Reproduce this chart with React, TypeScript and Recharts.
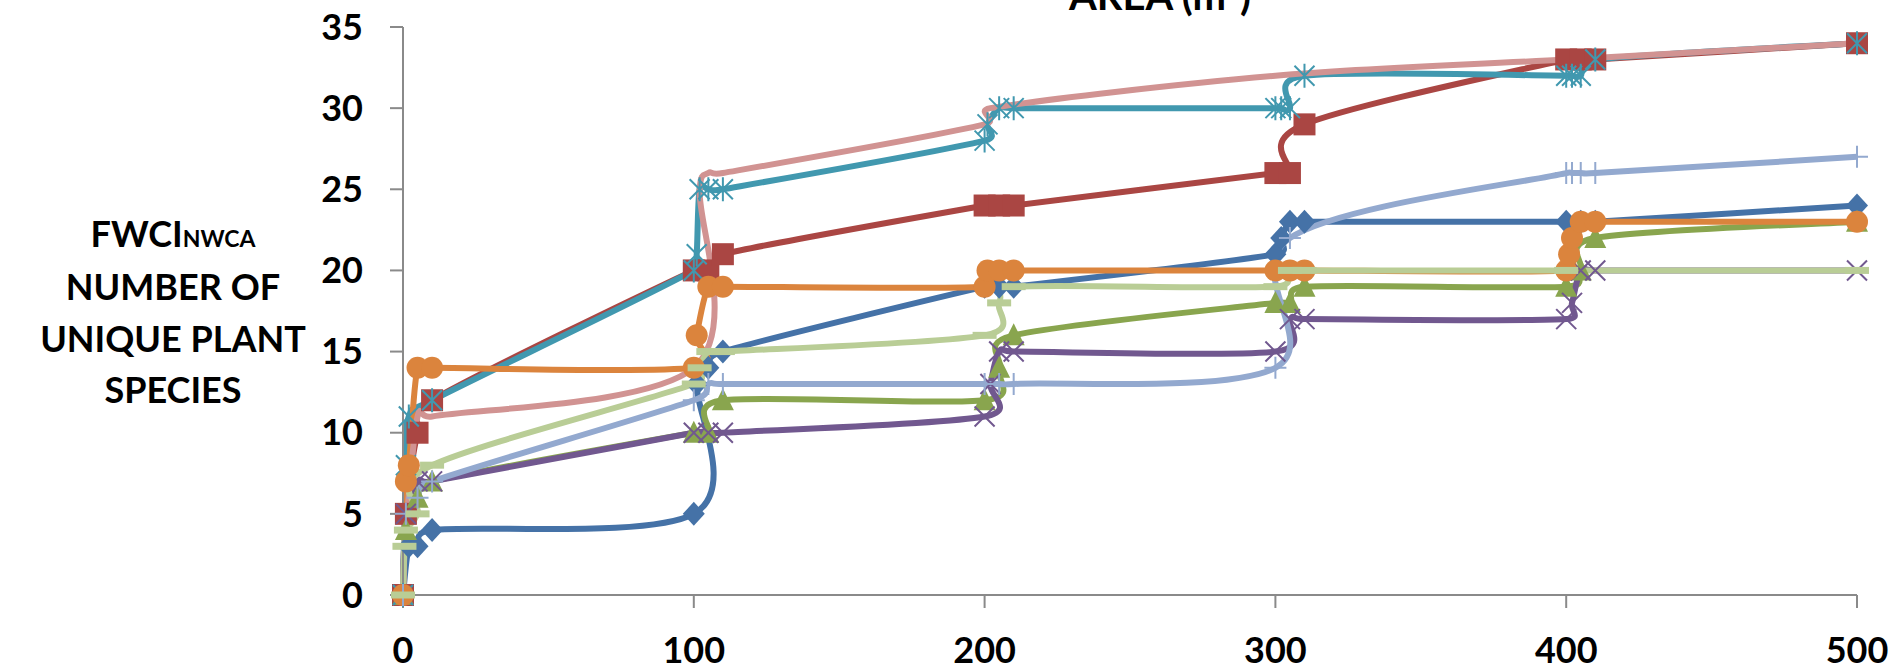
import { Line, LineChart, XAxis, YAxis } from "recharts";

// sampled area (m2) vs. cumulative species count, one list per site
const siteBlue: [number, number][] = [
  [0, 0], [2, 3], [5, 3], [10, 4], [100, 5], [101, 13], [105, 14], [110, 15],
  [200, 19], [205, 19], [210, 19], [300, 21], [302, 22], [305, 23], [310, 23],
  [400, 23], [405, 23], [410, 23], [500, 24],
];
const siteRed: [number, number][] = [
  [0, 0], [1, 5], [5, 10], [10, 12], [100, 20], [105, 20], [110, 21],
  [200, 24], [205, 24], [210, 24], [300, 26], [305, 26], [310, 29],
  [400, 33], [405, 33], [410, 33], [500, 34],
];
const siteGreen: [number, number][] = [
  [0, 0], [1, 4], [5, 6], [10, 7], [100, 10], [105, 10], [110, 12],
  [200, 12], [205, 14], [210, 16], [300, 18], [305, 18], [310, 19],
  [400, 19], [405, 20], [410, 22], [500, 23],
];
const sitePurple: [number, number][] = [
  [0, 0], [1, 5], [5, 7], [10, 7], [100, 10], [105, 10], [110, 10],
  [200, 11], [202, 13], [205, 15], [210, 15], [300, 15], [305, 17], [310, 17],
  [400, 17], [402, 18], [405, 20], [410, 20], [500, 20],
];
const siteTeal: [number, number][] = [
  [0, 0], [1, 8], [2, 11], [10, 12], [100, 20], [101, 21], [102, 25], [105, 25], [110, 25],
  [200, 28], [201, 29], [205, 30], [210, 30], [300, 30], [302, 30], [305, 30], [310, 32],
  [400, 32], [402, 32], [405, 32], [410, 33], [500, 34],
];
const siteOrange: [number, number][] = [
  [0, 0], [1, 7], [2, 8], [5, 14], [10, 14], [100, 14], [101, 16], [105, 19], [110, 19],
  [200, 19], [201, 20], [205, 20], [210, 20], [300, 20], [305, 20], [310, 20],
  [400, 20], [401, 21], [402, 22], [405, 23], [410, 23], [500, 23],
];
const siteLightBlue: [number, number][] = [
  [0, 0], [1, 5], [5, 6], [10, 7], [100, 12], [105, 13], [110, 13],
  [200, 13], [205, 13], [210, 13], [300, 14], [305, 22],
  [400, 26], [402, 26], [405, 26], [410, 26], [500, 27],
];
const sitePink: [number, number][] = [
  [0, 0], [1, 4], [5, 11], [10, 11], [100, 14], [102, 25], [105, 26], [110, 26],
  [200, 29], [202, 30], [300, 32], [400, 33], [500, 34],
];
const siteLightGreen: [number, number][] = [
  [0, 0], [0.5, 3], [1, 4], [5, 5], [10, 8], [100, 13], [102, 14], [105, 15], [110, 15],
  [200, 16], [205, 18], [210, 19], [300, 19], [305, 20], [310, 20], [400, 20], [500, 20],
];

const areaTicks = [0, 100, 200, 300, 400, 500];
const speciesTicks = [0, 5, 10, 15, 20, 25, 30, 35];

const series = [
  { id: "blue", color: "#4572A7", shape: "diamond", points: siteBlue },
  { id: "red", color: "#AA4643", shape: "square", points: siteRed },
  { id: "green", color: "#89A54E", shape: "triangle", points: siteGreen },
  { id: "purple", color: "#71588F", shape: "x", points: sitePurple },
  { id: "teal", color: "#4198AF", shape: "star", points: siteTeal },
  { id: "orange", color: "#DB843D", shape: "circle", points: siteOrange },
  { id: "lightblue", color: "#93A9CF", shape: "plus", points: siteLightBlue },
  { id: "pink", color: "#D19392", shape: "none", points: sitePink },
  { id: "lightgreen", color: "#B9CD96", shape: "dash", points: siteLightGreen },
];

const FONT = "Lato, 'Open Sans', sans-serif";

// Excel-like smoothed line: catmull-rom through every point,
// handles clamped to the segment length so short hops don't loop
function excelSmooth(context: any) {
  let pts: number[][] = [];
  const clamp = (dx: number, dy: number, max: number) => {
    const len = Math.hypot(dx, dy);
    if (len <= max || len === 0) return [dx, dy];
    return [(dx * max) / len, (dy * max) / len];
  };
  return {
    areaStart() {},
    areaEnd() {},
    lineStart() {
      pts = [];
    },
    point(x: number, y: number) {
      pts.push([+x, +y]);
    },
    lineEnd() {
      const n = pts.length;
      if (!n) return;
      context.moveTo(pts[0][0], pts[0][1]);
      for (let i = 0; i < n - 1; i++) {
        const p0 = pts[i - 1] || pts[i];
        const p1 = pts[i];
        const p2 = pts[i + 1];
        const p3 = pts[i + 2] || p2;
        const chord = Math.hypot(p2[0] - p1[0], p2[1] - p1[1]);
        const a = clamp((p2[0] - p0[0]) / 6, (p2[1] - p0[1]) / 6, chord);
        const b = clamp((p3[0] - p1[0]) / 6, (p3[1] - p1[1]) / 6, chord);
        context.bezierCurveTo(p1[0] + a[0], p1[1] + a[1], p2[0] - b[0], p2[1] - b[1], p2[0], p2[1]);
      }
    },
  };
}

function Marker({ shape, color, cx, cy }: { shape: string; color: string; cx: number; cy: number }) {
  const s = 11;
  switch (shape) {
    case "diamond":
      return <polygon points={`${cx},${cy - 12} ${cx + 11},${cy} ${cx},${cy + 12} ${cx - 11},${cy}`} fill={color} />;
    case "square":
      return <rect x={cx - s} y={cy - s} width={2 * s} height={2 * s} fill={color} />;
    case "triangle":
      return <polygon points={`${cx},${cy - 12} ${cx + 11},${cy + 10} ${cx - 11},${cy + 10}`} fill={color} />;
    case "circle":
      return <circle cx={cx} cy={cy} r={11} fill={color} />;
    case "x":
      return (
        <path d={`M${cx - 10},${cy - 10}L${cx + 10},${cy + 10}M${cx + 10},${cy - 10}L${cx - 10},${cy + 10}`} stroke={color} strokeWidth={2} />
      );
    case "star":
      return (
        <path
          d={`M${cx - 10},${cy - 10}L${cx + 10},${cy + 10}M${cx + 10},${cy - 10}L${cx - 10},${cy + 10}M${cx},${cy - 12}L${cx},${cy + 12}`}
          stroke={color}
          strokeWidth={2}
        />
      );
    case "plus":
      return <path d={`M${cx - 11},${cy}L${cx + 11},${cy}M${cx},${cy - 11}L${cx},${cy + 11}`} stroke={color} strokeWidth={2} />;
    case "dash":
      return <rect x={cx - 12} y={cy - 3.5} width={24} height={7} fill={color} />;
    default:
      return null;
  }
}

const dotFor = (shape: string, color: string) => (p: any) =>
  <Marker key={`${shape}-${p.index}`} shape={shape} color={color} cx={p.cx} cy={p.cy} />;

const tickStyle = { fill: "#000", fontSize: 36, fontWeight: 700, fontFamily: FONT };
const axisStroke = { stroke: "#8a8a8a", strokeWidth: 2 };

export default function App() {
  return (
    <div style={{ position: "absolute", left: 0, top: 0, width: 1897, height: 672, background: "#fff" }}>
      <LineChart width={1897} height={672} margin={{ top: 27, right: 40, bottom: 0, left: 303 }}>
        <XAxis
          dataKey="area"
          type="number"
          domain={[0, 500]}
          ticks={areaTicks}
          interval={0}
          height={77}
          tickSize={13}
          tickMargin={29}
          tick={tickStyle}
          axisLine={axisStroke}
          tickLine={axisStroke}
        />
        <YAxis
          type="number"
          domain={[0, 35]}
          ticks={speciesTicks}
          interval={0}
          width={100}
          tickSize={13}
          tickMargin={27}
          tick={tickStyle}
          axisLine={axisStroke}
          tickLine={axisStroke}
        />
        {series.map((s) => (
          <Line
            key={s.id}
            data={s.points.map(([area, species]) => ({ area, species }))}
            dataKey="species"
            type={excelSmooth as any}
            stroke={s.color}
            strokeWidth={6}
            dot={dotFor(s.shape, s.color)}
            activeDot={false}
            isAnimationActive={false}
          />
        ))}
      </LineChart>
      <svg
        width={1897}
        height={672}
        style={{ position: "absolute", left: 0, top: 0, pointerEvents: "none" }}
        fontFamily={FONT}
        fontWeight={700}
      >
        <text x={1160} y={10} textAnchor="middle" fontSize={40}>
          AREA (m<tspan fontSize={24} dy={-14}>2</tspan>
          <tspan dy={14}>)</tspan>
        </text>
        <text x={173} textAnchor="middle" fontSize={36}>
          <tspan x={173} y={247}>
            FWCI<tspan fontSize={23}>NWCA</tspan>
          </tspan>
          <tspan x={173} y={300}>NUMBER OF</tspan>
          <tspan x={173} y={352}>UNIQUE PLANT</tspan>
          <tspan x={173} y={403}>SPECIES</tspan>
        </text>
      </svg>
    </div>
  );
}
